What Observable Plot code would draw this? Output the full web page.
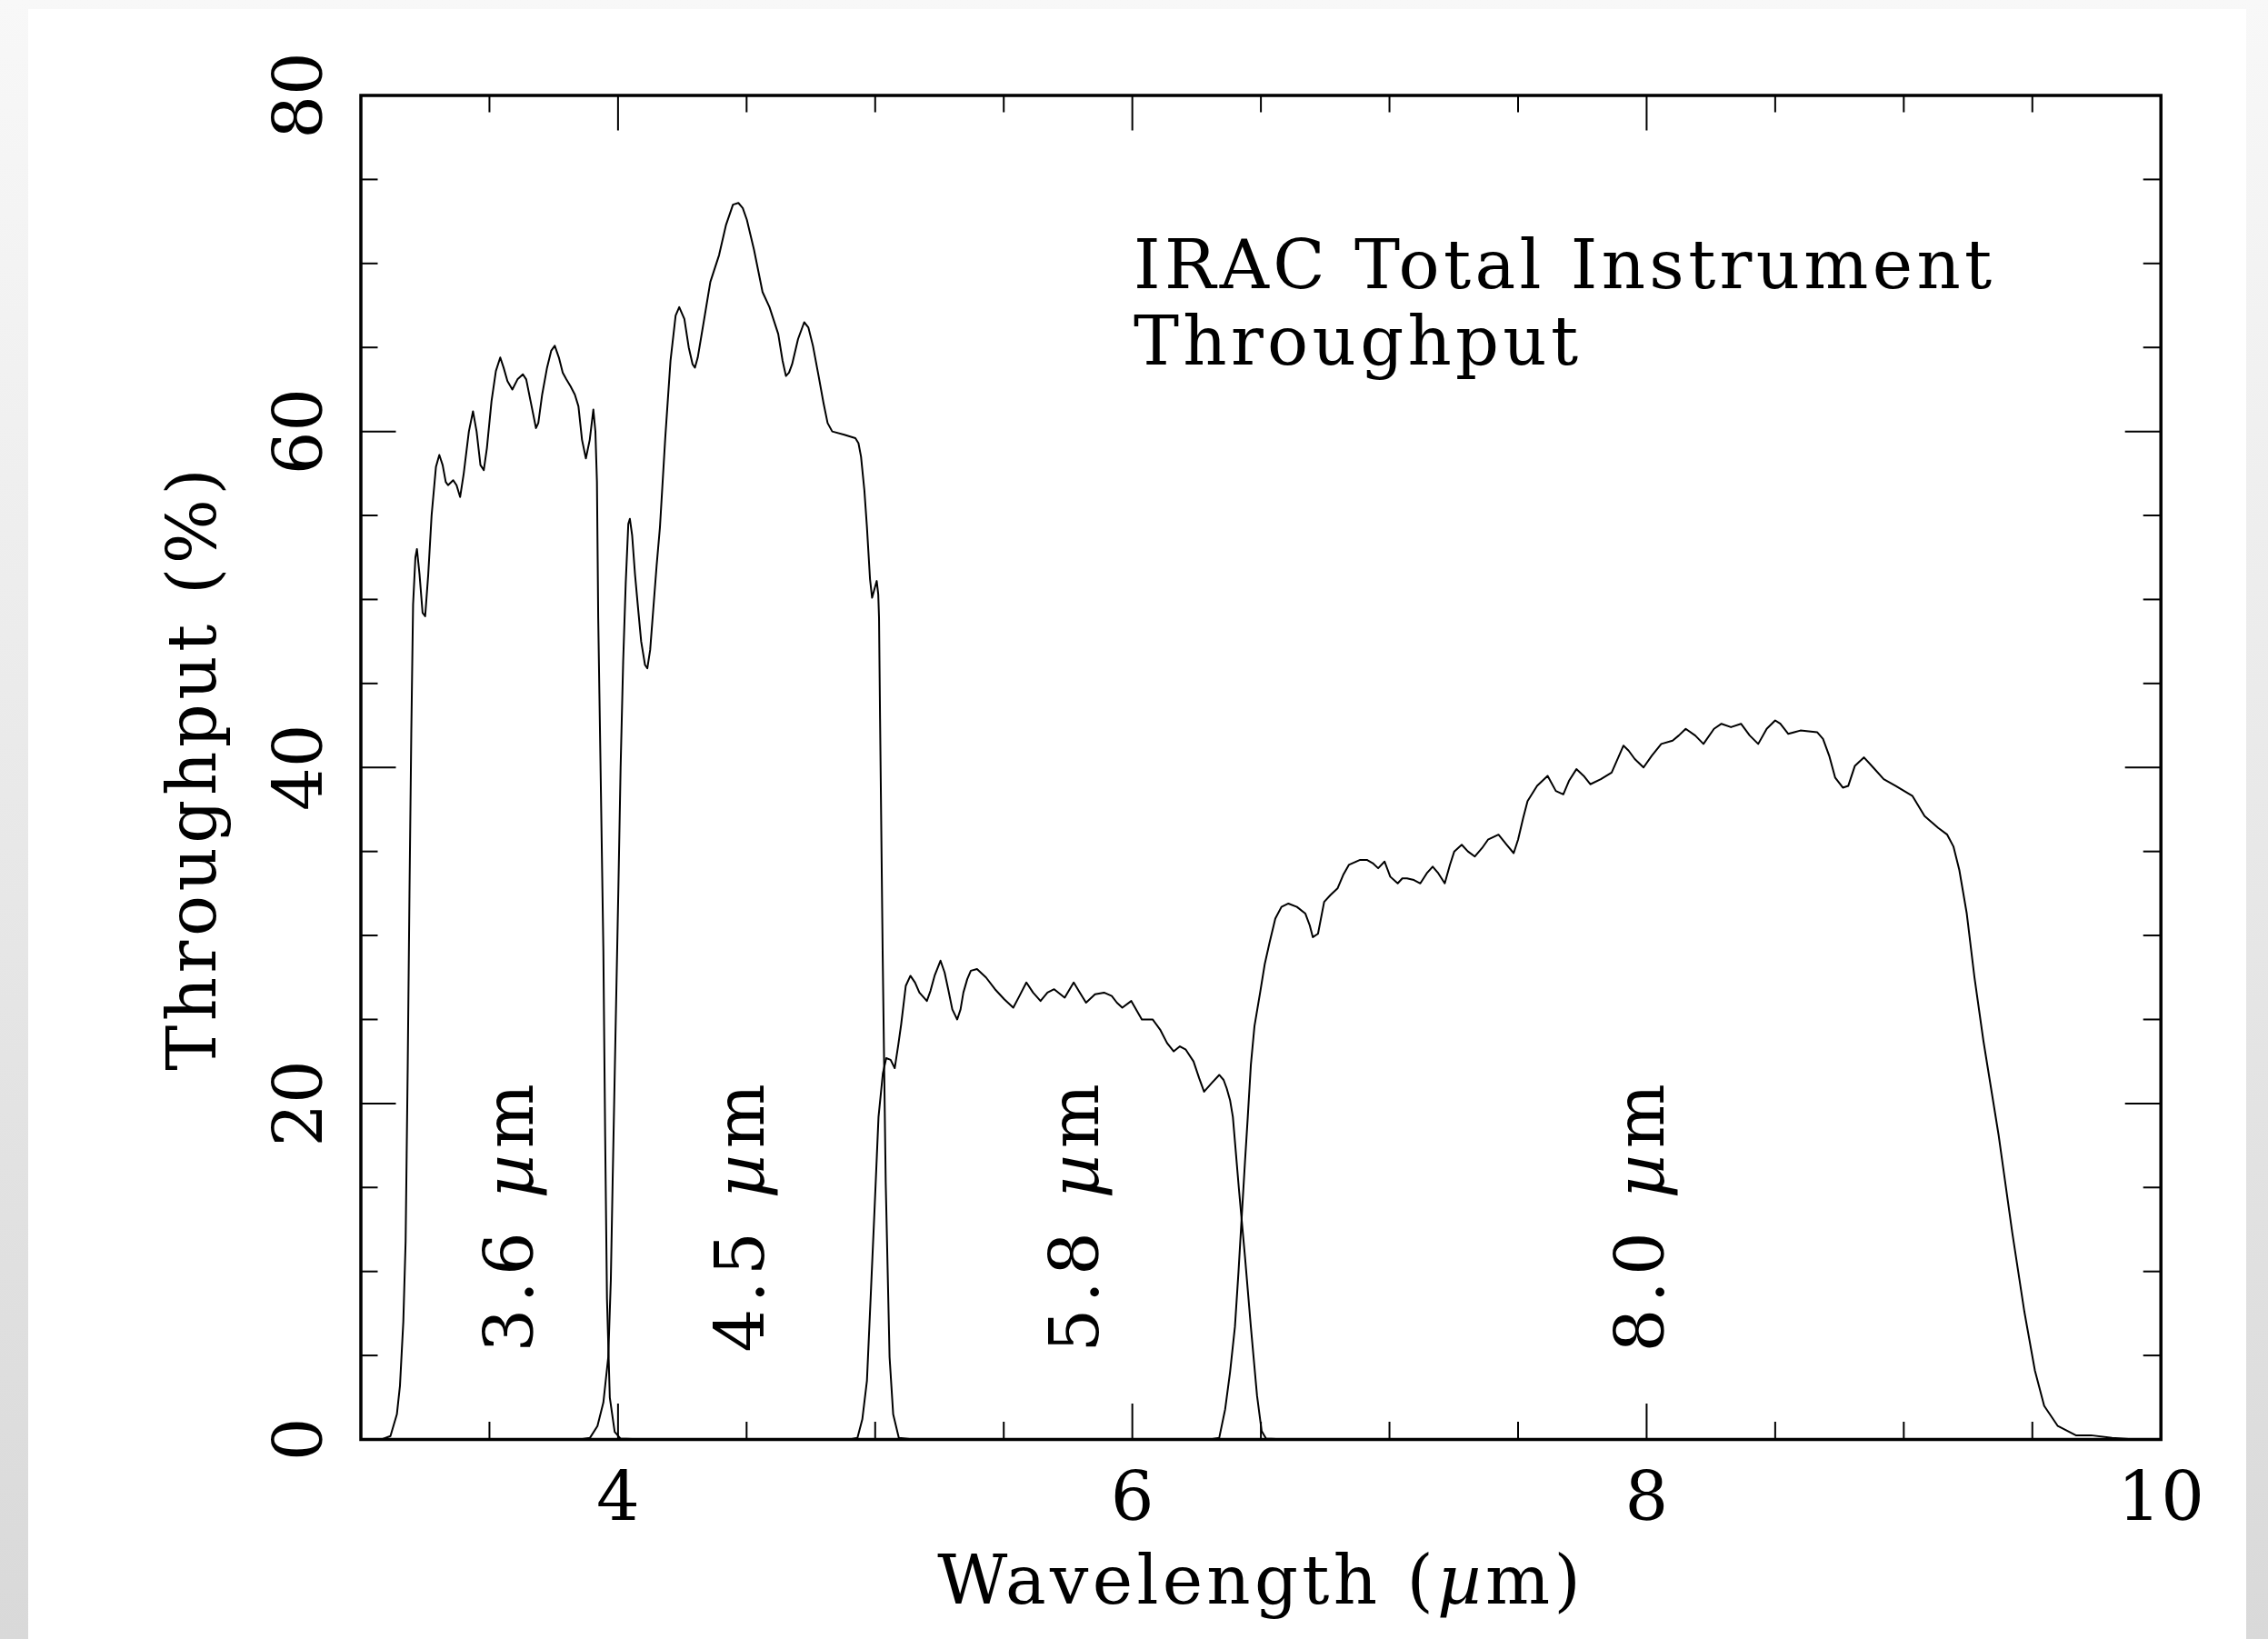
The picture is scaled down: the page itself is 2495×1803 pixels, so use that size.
<!DOCTYPE html>
<html><head><meta charset="utf-8">
<script src="https://cdn.jsdelivr.net/npm/d3@7"></script>
<script src="https://cdn.jsdelivr.net/npm/@observablehq/plot@0.6"></script>
<style>
html,body{margin:0;padding:0;}
body{width:2495px;height:1803px;overflow:hidden;background:linear-gradient(#f8f8f8,#d9d9d9);position:relative;}
#panel{position:absolute;left:31px;top:10px;width:2440px;height:1793px;background:#fff;}
#chart{position:absolute;left:0;top:0;}
</style></head><body><div id="panel"></div><div id="chart"></div>
<script>
// ---- data (wavelength µm, throughput %) ----
const band36 = [[3.08,0],[3.115,0.2],[3.14,1.5],[3.152,3.2],[3.165,7],[3.174,11.8],[3.182,22],[3.189,32.5],[3.196,42],[3.203,49.7],[3.212,52.5],[3.218,53.0],[3.228,51.5],[3.24,49.2],[3.25,49.0],[3.262,51.5],[3.275,55],[3.292,57.9],[3.305,58.6],[3.318,58],[3.33,57],[3.339,56.8],[3.359,57.1],[3.372,56.8],[3.386,56.1],[3.40,57.5],[3.42,60],[3.436,61.2],[3.45,60],[3.465,58],[3.478,57.7],[3.49,59],[3.508,61.8],[3.525,63.6],[3.542,64.4],[3.555,63.8],[3.57,63],[3.589,62.5],[3.609,63.1],[3.63,63.4],[3.643,63.1],[3.66,61.8],[3.681,60.2],[3.69,60.5],[3.705,62.2],[3.724,63.8],[3.74,64.8],[3.754,65.1],[3.77,64.4],[3.785,63.5],[3.799,63.1],[3.815,62.7],[3.832,62.2],[3.846,61.5],[3.86,59.5],[3.875,58.4],[3.89,59.5],[3.904,61.3],[3.912,60],[3.918,57],[3.923,48.9],[3.93,42],[3.943,29.1],[3.95,18],[3.957,8.4],[3.968,2.5],[3.987,0.45],[4.01,0.05],[4.1,0]];
const band45 = [[3.85,0],[3.891,0.1],[3.92,0.8],[3.943,2.2],[3.962,4.9],[3.972,9.5],[3.979,15.3],[3.99,24],[4.001,32.5],[4.01,40],[4.02,46.3],[4.03,51],[4.04,54.5],[4.046,54.8],[4.055,53.8],[4.066,51.5],[4.076,49.8],[4.09,47.5],[4.105,46.1],[4.114,45.9],[4.125,47],[4.137,49.4],[4.15,52],[4.163,54.3],[4.184,59.7],[4.204,64.2],[4.224,66.9],[4.238,67.4],[4.258,66.7],[4.275,65],[4.29,64],[4.299,63.8],[4.31,64.4],[4.333,66.5],[4.359,68.9],[4.393,70.5],[4.42,72.3],[4.447,73.5],[4.468,73.6],[4.485,73.3],[4.501,72.6],[4.529,70.8],[4.562,68.3],[4.589,67.4],[4.623,65.8],[4.64,64.2],[4.653,63.3],[4.665,63.5],[4.677,64.0],[4.70,65.5],[4.724,66.5],[4.74,66.2],[4.758,65.1],[4.78,63.3],[4.799,61.7],[4.815,60.5],[4.833,60.0],[4.88,59.8],[4.923,59.6],[4.935,59.3],[4.945,58.5],[4.958,56.5],[4.968,54.3],[4.98,51.2],[4.988,50.1],[4.997,50.6],[5.006,51.1],[5.012,50.3],[5.015,48.9],[5.019,42.9],[5.029,29.1],[5.041,15.3],[5.056,4.9],[5.07,1.5],[5.092,0.1],[5.15,0]];
const band58 = [[4.9,0],[4.931,0.1],[4.95,1.2],[4.968,3.5],[4.984,9],[4.997,13.5],[5.013,19.2],[5.03,21.8],[5.043,22.7],[5.06,22.6],[5.076,22.1],[5.09,23.5],[5.101,24.7],[5.119,27.0],[5.137,27.6],[5.155,27.2],[5.172,26.6],[5.201,26.1],[5.215,26.7],[5.231,27.6],[5.254,28.5],[5.27,27.8],[5.284,26.8],[5.3,25.6],[5.319,25.0],[5.332,25.6],[5.343,26.6],[5.358,27.4],[5.372,27.9],[5.396,28.0],[5.431,27.5],[5.466,26.8],[5.502,26.2],[5.537,25.7],[5.561,26.4],[5.588,27.2],[5.614,26.6],[5.643,26.1],[5.67,26.6],[5.696,26.8],[5.737,26.3],[5.772,27.2],[5.796,26.6],[5.82,26.0],[5.855,26.5],[5.89,26.6],[5.92,26.4],[5.94,26.0],[5.961,25.7],[5.996,26.1],[6.037,25.0],[6.079,25.0],[6.108,24.4],[6.135,23.6],[6.161,23.1],[6.185,23.4],[6.208,23.2],[6.238,22.5],[6.26,21.5],[6.279,20.7],[6.308,21.2],[6.338,21.7],[6.355,21.4],[6.367,20.9],[6.38,20.2],[6.391,19.2],[6.414,15.0],[6.438,10.9],[6.461,6.7],[6.485,2.6],[6.503,0.5],[6.52,0.05],[6.6,0]];
const band80 = [[6.30,0],[6.338,0.1],[6.361,1.8],[6.38,4],[6.399,6.7],[6.413,10],[6.426,13.4],[6.438,16.5],[6.449,19.2],[6.461,22.3],[6.475,24.6],[6.497,26.6],[6.515,28.3],[6.534,29.6],[6.556,31.0],[6.58,31.7],[6.607,31.9],[6.64,31.7],[6.673,31.3],[6.69,30.6],[6.702,29.9],[6.722,30.1],[6.746,32.0],[6.77,32.4],[6.798,32.8],[6.82,33.6],[6.842,34.2],[6.886,34.5],[6.912,34.5],[6.935,34.3],[6.956,34.0],[6.981,34.4],[7.003,33.5],[7.032,33.1],[7.05,33.4],[7.068,33.4],[7.095,33.3],[7.12,33.1],[7.145,33.7],[7.168,34.1],[7.19,33.7],[7.215,33.1],[7.235,34.2],[7.252,35.0],[7.281,35.4],[7.305,35.0],[7.332,34.7],[7.36,35.2],[7.383,35.7],[7.424,36.0],[7.456,35.4],[7.483,34.9],[7.5,35.7],[7.52,37],[7.537,38.0],[7.574,38.9],[7.615,39.5],[7.647,38.6],[7.676,38.4],[7.698,39.2],[7.727,39.9],[7.755,39.5],[7.781,39.0],[7.822,39.3],[7.864,39.7],[7.89,40.6],[7.91,41.3],[7.93,41.0],[7.954,40.5],[7.988,40.0],[8.02,40.7],[8.057,41.4],[8.101,41.6],[8.125,41.9],[8.152,42.3],[8.189,41.9],[8.221,41.4],[8.262,42.3],[8.291,42.6],[8.328,42.4],[8.367,42.6],[8.401,41.9],[8.434,41.4],[8.467,42.3],[8.50,42.8],[8.52,42.6],[8.551,42.0],[8.574,42.1],[8.598,42.2],[8.663,42.1],[8.686,41.7],[8.71,40.7],[8.733,39.4],[8.763,38.8],[8.784,38.9],[8.81,40.1],[8.845,40.6],[8.881,40.0],[8.922,39.3],[8.969,38.9],[9.034,38.3],[9.081,37.1],[9.134,36.4],[9.169,36.0],[9.193,35.3],[9.216,33.9],[9.245,31.3],[9.275,27.5],[9.31,23.7],[9.369,18.1],[9.422,12.3],[9.469,7.6],[9.51,4.1],[9.546,2.0],[9.599,0.8],[9.669,0.25],[9.728,0.25],[9.81,0.1],[9.9,0]];

const bandNames   = ["3.6 µm", "4.5 µm", "5.8 µm", "8.0 µm"];
const bandCenters = [3.6, 4.5, 5.8, 8.0];
const xTickLabels = [4, 6, 8, 10];
const xMajorTicks = [4, 6, 8];
const xMinorTicks = [3.5, 4.5, 5, 5.5, 6.5, 7, 7.5, 8.5, 9, 9.5];
const yTickLabels = [0, 20, 40, 60, 80];
const yMajorTicks = [20, 40, 60];
const yMinorTicks = [5, 10, 15, 25, 30, 35, 45, 50, 55, 65, 70, 75];
const xTitle = "Wavelength (µm)";
const yTitle = "Throughput (%)";
const annotation = "IRAC Total Instrument\nThroughput";

// ---- build table ----
const series = [band36, band45, band58, band80];
const rows = series.flatMap((s, i) => s.map(([w, t]) => ({band: bandNames[i], w, t})));
const bandLabels = bandNames.map((name, i) => ({name, x: bandCenters[i]}));

const W = 2495, H = 1803, mL = 396.5, mR = 118.3, mT = 104.5, mB = 220;
const fw = W - mL - mR, fh = H - mT - mB;
const FS = 75, FONT = "DejaVu Serif";
const MAJ = 39, MIN = 19;

const tickStyle = {stroke: "black", strokeWidth: 2};
const chart = Plot.plot({
  width: W, height: H,
  marginLeft: mL, marginRight: mR, marginTop: mT, marginBottom: mB,
  style: {background: "transparent", fontFamily: FONT, overflow: "visible"},
  x: {domain: [3, 10], axis: null},
  y: {domain: [0, 80], axis: null},
  marks: [
    Plot.line(rows, {x: "w", y: "t", z: "band", stroke: "black", strokeWidth: 2}),
    // inward ticks on all four sides
    Plot.tickX(xMajorTicks, {x: d => d, insetTop: fh - MAJ, ...tickStyle}),
    Plot.tickX(xMinorTicks, {x: d => d, insetTop: fh - MIN, ...tickStyle}),
    Plot.tickX(xMajorTicks, {x: d => d, insetBottom: fh - MAJ, ...tickStyle}),
    Plot.tickX(xMinorTicks, {x: d => d, insetBottom: fh - MIN, ...tickStyle}),
    Plot.tickY(yMajorTicks, {y: d => d, insetRight: fw - MAJ, ...tickStyle}),
    Plot.tickY(yMinorTicks, {y: d => d, insetRight: fw - MIN, ...tickStyle}),
    Plot.tickY(yMajorTicks, {y: d => d, insetLeft: fw - MAJ, ...tickStyle}),
    Plot.tickY(yMinorTicks, {y: d => d, insetLeft: fw - MIN, ...tickStyle}),
    Plot.frame({stroke: "black", strokeWidth: 3.5}),
    // tick labels
    Plot.text(xTickLabels, {x: d => d, text: d => String(d), frameAnchor: "bottom", dy: 64.5,
      lineAnchor: "middle", fontSize: FS, fill: "black"}),
    Plot.text(yTickLabels, {y: d => d, text: d => String(d), frameAnchor: "left", dx: -67.5,
      rotate: -90, textAnchor: "middle", lineAnchor: "middle", fontSize: FS, fill: "black"}),
    // axis titles
    Plot.text([xTitle], {text: d => d, frameAnchor: "bottom", dy: 156, lineAnchor: "middle",
      fontSize: FS, fill: "black"}),
    Plot.text([yTitle], {text: d => d, frameAnchor: "left", dx: -184.5, rotate: -90,
      textAnchor: "middle", lineAnchor: "middle", fontSize: FS, fill: "black"}),
    // band labels
    Plot.text(bandLabels, {x: "x", text: "name", frameAnchor: "bottom", dy: -96, dx: -5, rotate: -90,
      textAnchor: "start", lineAnchor: "middle", fontSize: FS, fill: "black"}),
    // annotation
    Plot.text([annotation], {text: d => d, frameAnchor: "top-left", dx: 850, dy: 153,
      textAnchor: "start", lineAnchor: "top", lineHeight: 1.113, fontSize: FS, fill: "black"})
  ]
});

// letter spacing to mimic the wide plotting font
const spacing = new Map([[xTitle, 4.3], [yTitle, 4.5], ...bandNames.map(n => [n, 6.5])]);
chart.querySelectorAll("text").forEach(t => {
  const s = spacing.get(t.textContent);
  if (s) t.setAttribute("letter-spacing", s);
  if (t.textContent.startsWith("IRAC")) t.setAttribute("letter-spacing", 4.3);
});

// italic mu
chart.querySelectorAll("text, tspan").forEach(t => {
  if (t.childElementCount === 0 && t.textContent.includes("µ")) {
    const parts = t.textContent.split("µ");
    t.textContent = "";
    parts.forEach((p, i) => {
      if (i > 0) {
        const mu = document.createElementNS("http://www.w3.org/2000/svg", "tspan");
        mu.setAttribute("font-style", "italic");
        mu.textContent = "µ";
        t.appendChild(mu);
      }
      if (p) t.appendChild(document.createTextNode(p));
    });
  }
});
document.getElementById("chart").appendChild(chart);
</script></body></html>
